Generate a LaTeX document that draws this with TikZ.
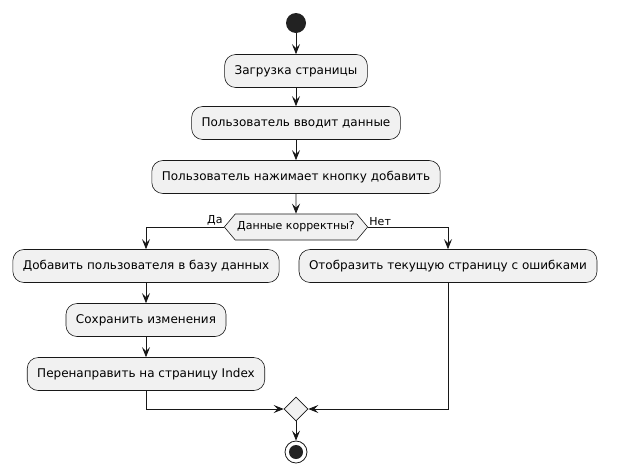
\documentclass[tikz,border=0pt]{standalone}
\usepackage{fontspec}
\setmainfont{DejaVu Sans}
\usetikzlibrary{arrows.meta,shapes.geometric,shapes.symbols}

\definecolor{boxfill}{HTML}{F1F1F1}
\definecolor{boxline}{HTML}{181818}
\definecolor{dotfill}{HTML}{222222}

\tikzset{
    actbox/.style={draw=boxline, fill=boxfill, rounded corners=11pt, line width=0.6pt,
        minimum height=33pt, inner xsep=10pt, font=\fontsize{12}{14}\selectfont},
    decbox/.style={draw=boxline, fill=boxfill, shape=signal, signal to=west and east,
        signal pointer angle=100, line width=0.6pt, minimum height=26pt, inner xsep=2pt,
        font=\fontsize{11}{13}\selectfont},
    mergebox/.style={draw=boxline, fill=boxfill, shape=diamond, line width=0.6pt,
        minimum size=24pt, inner sep=0pt},
    arr/.style={-{Stealth[length=10pt,width=8pt,inset=4pt]}, draw=boxline, line width=0.8pt},
    lbl/.style={font=\fontsize{11}{13}\selectfont, inner sep=1pt}
}

\begin{document}
\begin{tikzpicture}[x=1pt, y=-1pt]
    \useasboundingbox (0,0) rectangle (623,472);

    % start
    \node[circle, fill=dotfill, minimum size=20pt, inner sep=0pt] (start) at (296,23) {};

    % main column
    \node[actbox] (load) at (296,71) {Загрузка страницы};
    \node[actbox] (input) at (296,123) {Пользователь вводит данные};
    \node[actbox] (click) at (296,177) {Пользователь нажимает кнопку добавить};
    \node[decbox] (check) at (296,227) {Данные корректны?};

    % branches
    \node[actbox] (add) at (146,266) {Добавить пользователя в базу данных};
    \node[actbox] (save) at (146,320) {Сохранить изменения};
    \node[actbox] (redirect) at (146,374) {Перенаправить на страницу Index};
    \node[actbox] (errors) at (448,266) {Отобразить текущую страницу с ошибками};

    % merge and stop
    \node[mergebox] (merge) at (296,409) {};
    \node[circle, draw=boxline, line width=0.8pt, fill=white, minimum size=22pt, inner sep=0pt] (stop) at (296,452) {};
    \fill[dotfill] (stop.center) circle (7pt);

    \draw[arr] (start) -- (load);
    \draw[arr] (load) -- (input);
    \draw[arr] (input) -- (click);
    \draw[arr] (click) -- (check);
    \draw[arr] (check.west) -| node[lbl, pos=0, above left] {Да} (add.north);
    \draw[arr] (check.east) -| node[lbl, pos=0, above right] {Нет} (errors.north);
    \draw[arr] (add) -- (save);
    \draw[arr] (save) -- (redirect);
    \draw[arr] (redirect.south) |- (merge.west);
    \draw[arr] (errors.south) |- (merge.east);
    \draw[arr] (merge) -- (stop);
\end{tikzpicture}
\end{document}
